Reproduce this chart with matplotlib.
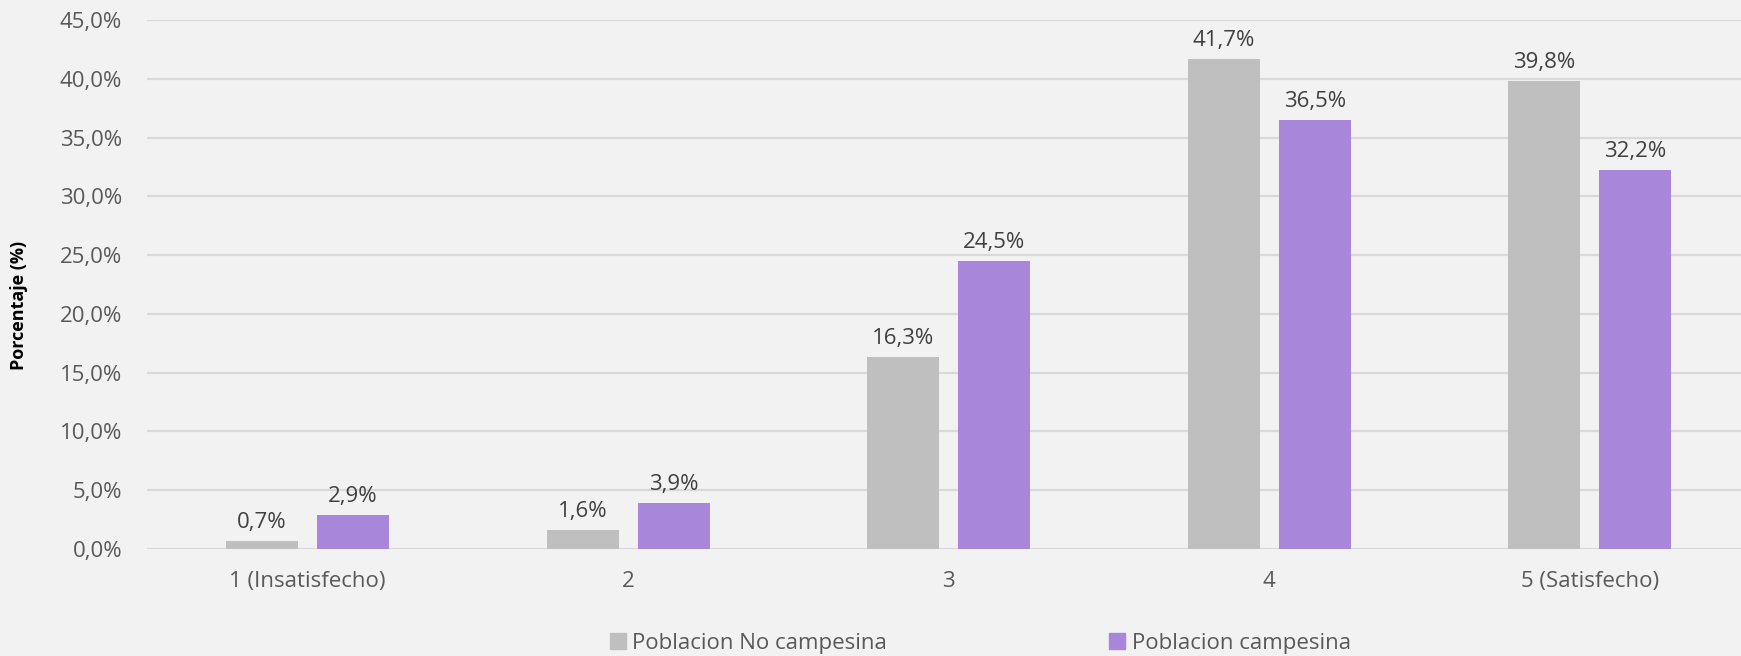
import matplotlib
matplotlib.use("Agg")
import matplotlib.pyplot as plt
import numpy as np
from matplotlib.patches import Patch

categories = ["1 (Insatisfecho)", "2", "3", "4", "5 (Satisfecho)"]
no_campesina = [0.7, 1.6, 16.3, 41.7, 39.8]
campesina = [2.9, 3.9, 24.5, 36.5, 32.2]
series_names = ["Poblacion No campesina", "Poblacion campesina"]
yticks = [0, 5, 10, 15, 20, 25, 30, 35, 40, 45]

plt.rcParams['font.family'] = ['Open Sans', 'DejaVu Sans']

W, H = 1741, 656
fig = plt.figure(figsize=(W / 100, H / 100), dpi=100, facecolor="#F2F2F2")
ax = fig.add_axes([147.2 / W, 1 - 549 / H, 1603 / W, (549 - 20) / H])
ax.set_facecolor("#F2F2F2")

x = np.arange(len(categories))
bw = 0.2246
off = 0.142
c_gray = "#BFBFBF"
c_purple = "#A886D9"
b1 = ax.bar(x - off, no_campesina, bw, color=c_gray, zorder=3)
b2 = ax.bar(x + off, campesina, bw, color=c_purple, zorder=3)

def fmt(v):
    return f"{v:.1f}".replace(".", ",") + "%"

for bars, vals in ((b1, no_campesina), (b2, campesina)):
    for r, v in zip(bars, vals):
        ax.annotate(fmt(v), (r.get_x() + r.get_width() / 2, v),
                    xytext=(0, 8), textcoords="offset pixels",
                    ha="center", va="bottom", fontsize=16, color="#404040")

ax.set_xlim(-0.5, len(categories) - 0.5)
ax.set_ylim(0, 45)
ax.set_yticks(yticks)
ax.set_yticklabels([fmt(v) for v in yticks])
ax.set_xticks(x)
ax.set_xticklabels(categories)
ax.tick_params(axis="both", length=0, labelsize=16, labelcolor="#595959")
ax.tick_params(axis="y", pad=18)
ax.tick_params(axis="x", pad=16)
ax.yaxis.grid(True, color="#D9D9D9", linewidth=1.6, zorder=0)
ax.set_axisbelow(True)
for s in ax.spines.values():
    s.set_visible(False)

fig.text(19 / W, 1 - 305 / H, "Porcentaje (%)", rotation=90, ha="center",
         va="center", fontsize=13, fontweight="bold", color="black")

handles = [Patch(color=c_gray), Patch(color=c_purple)]
leg = fig.legend(handles, series_names, loc="center left",
                 bbox_to_anchor=(610 / W, 1 - 643 / H),
                 ncol=2, frameon=False, fontsize=16, labelcolor="#595959",
                 handlelength=0.7, handleheight=0.7, handletextpad=0.3,
                 columnspacing=10.0, borderpad=0, borderaxespad=0)

fig.savefig("out.png", dpi=100, facecolor=fig.get_facecolor())
